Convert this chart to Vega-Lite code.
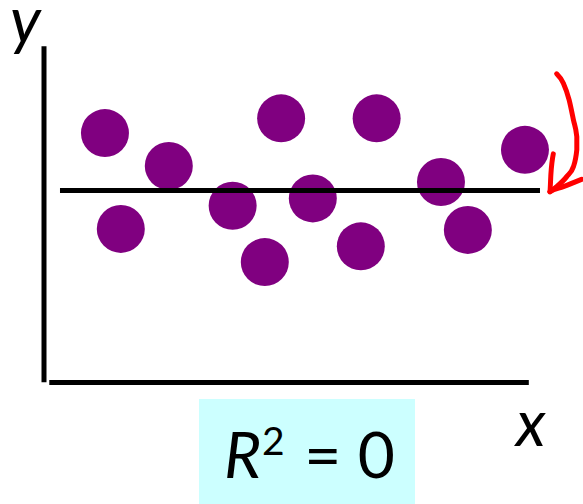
{
  "$schema": "https://vega.github.io/schema/vega-lite/v6.json",
  "width": 583,
  "height": 504,
  "autosize": {"type": "none"},
  "padding": 0,
  "background": "white",
  "config": {"view": {"stroke": null}},
  "datasets": {
    "points": [
      {"x": 1.27, "y": 7.43},
      {"x": 1.60, "y": 4.57},
      {"x": 2.60, "y": 6.45},
      {"x": 3.93, "y": 5.26},
      {"x": 4.60, "y": 3.58},
      {"x": 4.94, "y": 7.87},
      {"x": 5.60, "y": 5.48},
      {"x": 6.60, "y": 4.05},
      {"x": 6.93, "y": 7.87},
      {"x": 8.27, "y": 5.97},
      {"x": 8.83, "y": 4.54},
      {"x": 10.02, "y": 6.93}
    ],
    "axes": [
      {"x": 0, "x2": 0, "y": -0.01, "y2": 10.02},
      {"x": 0.11, "x2": 10.1, "y": -0.015, "y2": -0.015}
    ],
    "meanLine": [{"x": 0.333, "x2": 10.333, "y": 5.72}],
    "arrow": [
      {"part": "shaft", "i": 0, "x": 10.68, "y": 9.20},
      {"part": "shaft", "i": 1, "x": 10.82, "y": 8.92},
      {"part": "shaft", "i": 2, "x": 10.94, "y": 8.42},
      {"part": "shaft", "i": 3, "x": 11.03, "y": 7.82},
      {"part": "shaft", "i": 4, "x": 11.10, "y": 7.32},
      {"part": "shaft", "i": 5, "x": 11.10, "y": 6.93},
      {"part": "shaft", "i": 6, "x": 11.03, "y": 6.43},
      {"part": "shaft", "i": 7, "x": 10.89, "y": 6.13},
      {"part": "shaft", "i": 8, "x": 10.68, "y": 5.83},
      {"part": "shaft", "i": 9, "x": 10.54, "y": 5.68},
      {"part": "head", "i": 0, "x": 10.61, "y": 6.81},
      {"part": "head", "i": 1, "x": 10.56, "y": 6.20},
      {"part": "head", "i": 2, "x": 10.54, "y": 5.68},
      {"part": "head", "i": 3, "x": 10.82, "y": 5.83},
      {"part": "head", "i": 4, "x": 11.20, "y": 6.05}
    ],
    "box": [{"x": 3.229, "x2": 7.729, "y": -0.507, "y2": -3.642}]
  },
  "encoding": {
    "x": {"type": "quantitative", "scale": {"domain": [-0.9167, 11.229], "nice": false, "zero": false}, "axis": null},
    "y": {"type": "quantitative", "scale": {"domain": [-3.642, 11.403], "nice": false, "zero": false}, "axis": null}
  },
  "layer": [
    {
      "data": {"name": "box"},
      "mark": {"type": "rect", "color": "#CCFFFF"},
      "encoding": {
        "x": {"field": "x", "type": "quantitative"},
        "x2": {"field": "x2"},
        "y": {"field": "y", "type": "quantitative"},
        "y2": {"field": "y2"}
      }
    },
    {
      "data": {"name": "axes"},
      "mark": {"type": "rule", "color": "black", "strokeWidth": 5, "strokeCap": "butt"},
      "encoding": {
        "x": {"field": "x", "type": "quantitative"},
        "x2": {"field": "x2"},
        "y": {"field": "y", "type": "quantitative"},
        "y2": {"field": "y2"}
      }
    },
    {
      "data": {"name": "points"},
      "mark": {"type": "circle", "size": 2304, "color": "#800080", "opacity": 1},
      "encoding": {
        "x": {"field": "x", "type": "quantitative"},
        "y": {"field": "y", "type": "quantitative"}
      }
    },
    {
      "data": {"name": "meanLine"},
      "mark": {"type": "rule", "color": "black", "strokeWidth": 5, "strokeCap": "butt"},
      "encoding": {
        "x": {"field": "x", "type": "quantitative"},
        "x2": {"field": "x2"},
        "y": {"field": "y", "type": "quantitative"}
      }
    },
    {
      "data": {"name": "arrow"},
      "mark": {"type": "line", "color": "#FF0000", "strokeWidth": 5, "strokeCap": "round", "strokeJoin": "round", "interpolate": "monotone"},
      "encoding": {
        "x": {"field": "x", "type": "quantitative"},
        "y": {"field": "y", "type": "quantitative"},
        "detail": {"field": "part"},
        "order": {"field": "i", "type": "quantitative"}
      }
    },
    {
      "data": {"values": [{"t": "y", "x": -0.708, "y": 10.12}, {"t": "x", "x": 9.833, "y": -1.91}, {"t": "R", "x": 3.75, "y": -2.866}]},
      "mark": {"type": "text", "font": "Lato", "fontSize": 64, "fontStyle": "italic", "align": "left", "baseline": "alphabetic", "color": "black"},
      "encoding": {
        "x": {"field": "x", "type": "quantitative"},
        "y": {"field": "y", "type": "quantitative"},
        "text": {"field": "t"}
      }
    },
    {
      "data": {"values": [{"t": "2", "x": 4.54, "y": -2.179}]},
      "mark": {"type": "text", "font": "Lato", "fontSize": 39, "align": "left", "baseline": "alphabetic", "color": "black"},
      "encoding": {
        "x": {"field": "x", "type": "quantitative"},
        "y": {"field": "y", "type": "quantitative"},
        "text": {"field": "t"}
      }
    },
    {
      "data": {"values": [{"t": "= 0", "x": 5.42, "y": -2.866}]},
      "mark": {"type": "text", "font": "Lato", "fontSize": 64, "align": "left", "baseline": "alphabetic", "color": "black"},
      "encoding": {
        "x": {"field": "x", "type": "quantitative"},
        "y": {"field": "y", "type": "quantitative"},
        "text": {"field": "t"}
      }
    }
  ]
}
